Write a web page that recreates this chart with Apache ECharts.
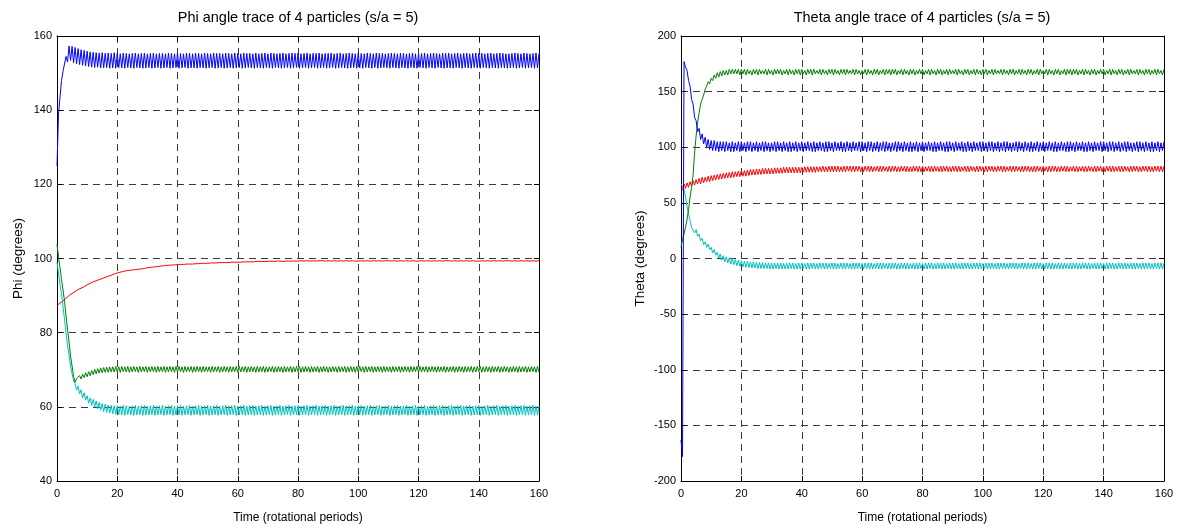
<!DOCTYPE html>
<html><head><meta charset="utf-8">
<script src="https://cdn.jsdelivr.net/npm/echarts@6/dist/echarts.min.js"></script>
<style>html,body{margin:0;padding:0;background:#fff}#c{width:1179px;height:529px}</style>
</head><body><div id="c"></div>
<script>
// sampling step of all traces, in rotational periods
const timeStep = 0.5;
const titles = ['Phi angle trace of 4 particles (s/a = 5)', 'Theta angle trace of 4 particles (s/a = 5)'];
const xName = 'Time (rotational periods)';
const yNames = ['Phi (degrees)', 'Theta (degrees)'];
const xRange = [0, 160, 20];
const phiRange = [40, 160, 20];
const thetaRange = [-200, 200, 50];

// ---- Phi (left panel) ----
const phiBlue = [
125,139,143.5,148,150.5,150.2,154.5,153,157.3,153.4,157.2,152.8,156.9,152.5,156.6,152.3,156.3,152.1,156.1,151.9,
155.9,151.8,155.7,151.6,155.6,151.5,155.5,151.6,155.4,151.4,155.5,151.4,155.3,151.5,155.4,151.3,155.3,151.4,155.5,151.3,
155.3,151.5,155.2,151.4,155.4,151.3,155.3,151.5,155.2,151.4,155.3,151.3,155.4,151.5,155.2,151.4,155.3,151.3,155.4,151.4,
155.2,151.5,155.3,151.3,155.4,151.4,155.2,151.5,155.3,151.3,155.3,151.4,155.2,151.5,155.4,151.3,155.3,151.4,155.2,151.5,
155.4,151.3,155.3,151.4,155.2,151.5,155.4,151.3,155.3,151.4,155.2,151.4,155.4,151.3,155.3,151.5,155.2,151.4,155.4,151.3,
155.3,151.4,155.2,151.5,155.4,151.3,155.3,151.4,155.3,151.5,155.2,151.3,155.4,151.4,155.3,151.5,155.2,151.3,155.4,151.4,
155.3,151.5,155.2,151.3,155.4,151.4,155.3,151.5,155.3,151.4,155.2,151.3,155.4,151.5,155.2,151.4,155.3,151.3,155.4,151.5,
155.2,151.4,155.4,151.3,155.3,151.5,155.2,151.4,155.3,151.3,155.4,151.4,155.2,151.5,155.3,151.3,155.4,151.4,155.3,151.5,
155.4,151.3,155.2,151.4,155.3,151.5,155.4,151.3,155.2,151.4,155.3,151.5,155.3,151.3,155.4,151.4,155.2,151.5,155.3,151.3,
155.3,151.4,155.4,151.5,155.2,151.3,155.3,151.4,155.4,151.5,155.2,151.4,155.3,151.3,155.4,151.4,155.3,151.5,155.2,151.3,
155.4,151.4,155.3,151.3,155.2,151.5,155.4,151.4,155.3,151.3,155.2,151.5,155.4,151.3,155.3,151.4,155.3,151.5,155.2,151.4,
155.3,151.3,155.4,151.5,155.3,151.4,155.2,151.3,155.4,151.5,155.3,151.4,155.2,151.3,155.3,151.5,155.4,151.4,155.2,151.3,
155.2,151.5,155.3,151.4,155.4,151.3,155.2,151.5,155.3,151.4,155.4,151.3,155.3,151.5,155.2,151.4,155.4,151.3,155.3,151.4,
155.4,151.4,155.2,151.3,155.3,151.5,155.4,151.4,155.2,151.3,155.3,151.5,155.4,151.4,155.2,151.3,155.3,151.5,155.4,151.4,
155.3,151.3,155.4,151.5,155.2,151.4,155.3,151.3,155.4,151.5,155.2,151.4,155.3,151.3,155.4,151.5,155.3,151.4,155.2,151.3,
155.2,151.4,155.3,151.5,155.4,151.3,155.3,151.4,155.2,151.5,155.4,151.3,155.3,151.4,155.2,151.5,155.3,151.3,155.4,151.4,
155.3];
const phiRed = [
87.3,87.4,88.0,88.1,88.6,88.8,89.3,89.5,90.0,90.1,90.6,90.7,91.1,91.2,91.6,91.6,92.0,92.0,92.4,92.4,
92.9,92.7,93.3,93.1,93.7,93.4,94.0,93.7,94.3,94.0,94.6,94.3,94.9,94.6,95.2,94.9,95.5,95.2,95.8,95.5,
96.1,95.8,96.3,96.0,96.5,96.2,96.7,96.3,96.8,96.4,96.9,96.5,97.0,96.6,97.1,96.7,97.2,96.8,97.3,96.9,
97.5,97.1,97.6,97.2,97.7,97.3,97.8,97.4,97.9,97.5,98.0,97.5,98.1,97.6,98.2,97.7,98.2,97.7,98.3,97.8,
98.3,97.8,98.4,97.9,98.4,97.9,98.5,98.0,98.5,98.0,98.5,98.1,98.6,98.1,98.6,98.1,98.7,98.2,98.7,98.2,
98.7,98.2,98.8,98.3,98.8,98.3,98.8,98.3,98.9,98.4,98.9,98.4,98.9,98.4,98.9,98.5,99.0,98.5,99.0,98.5,
99.0,98.5,99.0,98.6,99.1,98.6,99.1,98.6,99.1,98.6,99.1,98.7,99.2,98.7,99.2,98.7,99.2,98.7,99.2,98.7,
99.2,98.8,99.3,98.8,99.2,98.8,99.3,98.8,99.3,98.8,99.2,98.8,99.3,98.8,99.3,98.9,99.3,98.8,99.3,98.9,
99.3,98.9,99.4,98.9,99.3,98.9,99.4,98.9,99.3,98.9,99.4,98.9,99.3,99.0,99.4,98.9,99.4,99.0,99.3,98.9,
99.4,98.9,99.3,99.0,99.4,98.9,99.3,98.9,99.4,99.0,99.3,98.9,99.4,98.9,99.3,99.0,99.4,98.9,99.3,98.9,
99.3,99.0,99.4,98.9,99.3,98.9,99.4,99.0,99.3,98.9,99.4,98.9,99.3,99.0,99.4,98.9,99.3,98.9,99.4,99.0,
99.4,98.9,99.3,99.0,99.4,98.9,99.3,98.9,99.4,99.0,99.3,98.9,99.4,98.9,99.3,99.0,99.4,98.9,99.3,99.0,
99.3,98.9,99.4,99.0,99.3,98.9,99.4,98.9,99.3,99.0,99.4,98.9,99.3,98.9,99.4,99.0,99.3,98.9,99.4,98.9,
99.4,99.0,99.3,98.9,99.4,98.9,99.3,99.0,99.4,98.9,99.3,98.9,99.4,99.0,99.3,98.9,99.4,98.9,99.3,99.0,
99.3,98.9,99.4,99.0,99.3,98.9,99.4,98.9,99.3,99.0,99.4,98.9,99.3,98.9,99.4,99.0,99.3,98.9,99.4,98.9,
99.4,99.0,99.3,98.9,99.4,98.9,99.3,99.0,99.4,98.9,99.3,98.9,99.4,99.0,99.3,98.9,99.4,98.9,99.3,99.0,
99.4];
const phiGreen = [
103.8,100.5,97.5,94.3,91.5,88.5,84.5,81,77.5,73.7,71,68.2,66.6,67.6,67.1,68.4,67.5,68.8,67.9,69.2,
68.1,69.5,68.4,69.8,68.7,70.1,68.9,70.3,69.1,70.5,69.2,70.6,69.3,70.7,69.3,70.8,69.4,70.8,69.4,70.9,
69.4,70.8,69.3,70.9,69.5,70.8,69.4,70.9,69.3,70.8,69.4,70.9,69.5,70.8,69.3,70.9,69.4,70.8,69.5,70.9,
69.3,70.8,69.4,70.9,69.5,70.8,69.3,70.9,69.4,70.8,69.5,70.9,69.3,70.8,69.4,70.9,69.5,70.8,69.3,70.9,
69.4,70.9,69.5,70.8,69.3,70.9,69.4,70.8,69.5,70.9,69.3,70.8,69.4,70.9,69.5,70.8,69.3,70.9,69.4,70.8,
69.5,70.8,69.3,70.9,69.4,70.8,69.5,70.9,69.3,70.8,69.4,70.9,69.5,70.8,69.3,70.9,69.4,70.8,69.5,70.9,
69.3,70.9,69.4,70.8,69.5,70.9,69.3,70.8,69.4,70.9,69.5,70.8,69.3,70.9,69.4,70.8,69.5,70.9,69.3,70.8,
69.4,70.8,69.5,70.9,69.3,70.8,69.4,70.9,69.5,70.8,69.3,70.9,69.4,70.8,69.5,70.9,69.3,70.8,69.4,70.9,
69.5,70.9,69.3,70.8,69.4,70.9,69.5,70.8,69.3,70.9,69.4,70.8,69.5,70.9,69.3,70.8,69.4,70.9,69.5,70.8,
69.3,70.8,69.4,70.9,69.5,70.8,69.3,70.9,69.4,70.8,69.5,70.9,69.3,70.8,69.4,70.9,69.5,70.8,69.3,70.9,
69.4,70.9,69.5,70.8,69.3,70.9,69.4,70.8,69.5,70.9,69.3,70.8,69.4,70.9,69.5,70.8,69.3,70.9,69.4,70.8,
69.5,70.8,69.3,70.9,69.4,70.8,69.5,70.9,69.3,70.8,69.4,70.9,69.5,70.8,69.3,70.9,69.4,70.8,69.5,70.9,
69.3,70.9,69.4,70.8,69.5,70.9,69.3,70.8,69.4,70.9,69.5,70.8,69.3,70.9,69.4,70.8,69.5,70.9,69.3,70.8,
69.4,70.8,69.5,70.9,69.3,70.8,69.4,70.9,69.5,70.8,69.3,70.9,69.4,70.8,69.5,70.9,69.3,70.8,69.4,70.9,
69.5,70.9,69.3,70.8,69.4,70.9,69.5,70.8,69.3,70.9,69.4,70.8,69.5,70.9,69.3,70.8,69.4,70.9,69.5,70.8,
69.3,70.8,69.4,70.9,69.5,70.8,69.3,70.9,69.4,70.8,69.5,70.9,69.3,70.8,69.4,70.9,69.5,70.8,69.3,70.9,
69.4];
const phiCyan = [
99,96,93,90.5,87,83.5,80,76.5,74,71,69,67,66.3,64.5,65.6,63.5,64.6,62.4,63.8,61.8,
63,61,62.4,60.4,62,59.9,61.6,59.5,61.2,59.1,60.9,58.7,60.7,58.5,60.5,58.3,60.4,58.1,60.3,58.0,
60.3,57.9,60.2,57.8,60.4,57.7,60.3,57.9,60.2,57.8,60.3,57.7,60.4,57.8,60.2,57.9,60.3,57.7,60.4,57.8,
60.2,57.8,60.3,57.9,60.4,57.7,60.2,57.8,60.3,57.9,60.4,57.7,60.2,57.8,60.3,57.9,60.4,57.7,60.2,57.8,
60.3,57.9,60.4,57.7,60.2,57.8,60.3,57.9,60.4,57.7,60.2,57.8,60.3,57.9,60.4,57.7,60.2,57.8,60.3,57.9,
60.4,57.7,60.2,57.8,60.3,57.9,60.4,57.7,60.2,57.8,60.3,57.9,60.4,57.7,60.2,57.8,60.3,57.9,60.4,57.7,
60.2,57.8,60.3,57.9,60.4,57.7,60.2,57.8,60.3,57.9,60.4,57.7,60.2,57.8,60.3,57.9,60.4,57.7,60.2,57.8,
60.3,57.9,60.4,57.7,60.2,57.8,60.3,57.9,60.4,57.7,60.2,57.8,60.3,57.9,60.4,57.7,60.2,57.8,60.3,57.9,
60.4,57.7,60.2,57.8,60.3,57.9,60.4,57.7,60.2,57.8,60.3,57.9,60.4,57.7,60.2,57.8,60.3,57.9,60.4,57.7,
60.2,57.8,60.3,57.9,60.4,57.7,60.2,57.8,60.3,57.9,60.4,57.7,60.2,57.8,60.3,57.9,60.4,57.7,60.2,57.8,
60.3,57.9,60.4,57.7,60.2,57.8,60.3,57.9,60.4,57.7,60.2,57.8,60.3,57.9,60.4,57.7,60.2,57.8,60.3,57.9,
60.4,57.7,60.2,57.8,60.3,57.9,60.4,57.7,60.2,57.8,60.3,57.9,60.4,57.7,60.2,57.8,60.3,57.9,60.4,57.7,
60.2,57.8,60.3,57.9,60.4,57.7,60.2,57.8,60.3,57.9,60.4,57.7,60.2,57.8,60.3,57.9,60.4,57.7,60.2,57.8,
60.3,57.9,60.4,57.7,60.2,57.8,60.3,57.9,60.4,57.7,60.2,57.8,60.3,57.9,60.4,57.7,60.2,57.8,60.3,57.9,
60.4,57.7,60.2,57.8,60.3,57.9,60.4,57.7,60.2,57.8,60.3,57.9,60.4,57.7,60.2,57.8,60.3,57.9,60.4,57.7,
60.2,57.8,60.3,57.9,60.4,57.7,60.2,57.8,60.3,57.9,60.4,57.7,60.2,57.8,60.3,57.9,60.4,57.7,60.2,57.8,
60.3];

// ---- Theta (right panel) ----
const thetaBlue = [
-163,-178,177,172,169,160,155,143,139,127,124,114,117,107,112,103,109,100,107,98,
106,97,106,97,105,96,105,97,105,96,105,97,104,96,105,96,104,97,105,96,
105,97,104,96,105,97,105,96,104,97,105,96,104,97,105,96,105,97,104,96,
104,97,105,96,105,97,104,96,105,97,104,96,105,96,104,97,105,96,104,97,
105,96,104,97,105,97,104,96,105,96,104,97,105,97,104,96,105,96,105,97,
104,96,105,97,104,97,105,96,104,96,105,97,104,96,105,97,104,97,105,96,
105,97,104,96,105,97,105,96,104,97,105,96,104,97,105,96,105,97,104,96,
104,97,105,96,105,97,104,96,105,97,104,96,105,96,104,97,105,96,104,97,
105,96,104,97,105,97,104,96,105,96,104,97,105,97,104,96,105,96,105,97,
104,96,105,97,104,97,105,96,104,96,105,97,104,96,105,97,104,97,105,96,
105,97,104,96,105,97,105,96,104,97,105,96,104,97,105,96,105,97,104,96,
104,97,105,96,105,97,104,96,105,97,104,96,105,96,104,97,105,96,104,97,
105,96,104,97,105,97,104,96,105,96,104,97,105,97,104,96,105,96,105,97,
104,96,105,97,104,97,105,96,104,96,105,97,104,96,105,97,104,97,105,96,
105,97,104,96,105,97,105,96,104,97,105,96,104,97,105,96,105,97,104,96,
104,97,105,96,105,97,104,96,105,97,104,96,105,96,104,97,105,96,104,97,
105];
const thetaGreen = [
10,17,22,28,35,44,55,64,75,95,110,122,131,139,143,147,152,155,159,157,
162,160,165,162,167,163,168,164,169,165,169,165,170,166,170,166,170,166,170,165,
170,166,170,165,170,166,169,165,170,166,170,165,170,166,169,166,170,165,170,166,
169,165,170,166,170,166,170,165,169,166,170,165,170,166,169,165,170,166,170,165,
170,166,169,165,170,166,170,165,170,166,169,166,170,165,170,166,169,165,170,166,
170,165,170,166,169,165,170,166,170,165,170,166,169,166,170,165,170,166,169,165,
169,166,170,165,170,166,169,165,170,166,170,165,169,166,170,165,170,166,170,165,
170,166,170,165,169,166,170,165,170,166,169,165,170,166,170,165,169,166,170,166,
170,165,169,166,170,165,170,166,169,165,170,166,170,165,169,166,170,165,170,166,
169,166,170,165,170,166,169,165,170,166,170,165,169,166,170,165,170,166,169,165,
170,166,170,165,169,166,170,165,170,166,169,166,170,165,170,166,169,165,170,166,
170,165,169,166,170,165,170,166,169,165,170,166,170,165,169,166,170,165,170,166,
169,166,170,165,170,166,169,165,170,166,170,165,169,166,170,165,170,166,170,165,
170,166,170,165,169,166,170,165,170,166,169,165,170,166,170,165,169,166,170,166,
170,165,169,166,170,165,170,166,169,165,170,166,170,165,169,166,170,165,170,166,
169,166,170,165,170,166,169,165,170,166,170,165,169,166,170,165,170,166,169,165,
170];
const thetaRed = [
64,62,67,63,68,64,69,65,70,66,71,67,72,67,73,68,73,69,74,69,
74.5,70,75,70.5,75.5,71,76,71.5,76.5,72,77,72.5,77.5,72.5,78,73,78,73.5,78.5,73.5,
79,74,79,74,79.5,74.5,80,75,80,75,80.5,75.5,80.5,75.5,81,76,81,76,81,76,
81,76,81.5,76.5,81.5,76.5,81.5,76.5,82,77,82,77,82,77,82,77,82,77,82,77,
82,77.5,82.5,77.5,82.5,77.5,82.5,77.5,82.5,77.5,82.5,78,82.5,78,83,78,82.5,78,83,78,
83,78,83,78,83,78,82.5,78,83,78,83,78.5,83,78,83,78,83,78.5,83,78,
82.5,78,83,78.5,83,78,83,78,82.5,78.5,83,78,83,78,83,78.5,82.5,78,83,78,
83,78.5,83,78,82.5,78,83,78.5,83,78,83,78,82.5,78,83,78.5,83,78,83,78,
83,78,82.5,78.5,83,78,83,78,83,78.5,82.5,78,83,78,83,78.5,83,78,82.5,78,
83,78.5,83,78,83,78,82.5,78.5,83,78,83,78,83,78.5,82.5,78,83,78,83,78.5,
82.5,78,83,78,83,78.5,83,78,82.5,78,83,78.5,83,78,83,78,82.5,78.5,83,78,
83,78,83,78.5,82.5,78,83,78,83,78.5,83,78,82.5,78,83,78,83,78.5,82.5,78,
83,78.5,82.5,78,83,78,83,78.5,83,78,82.5,78,83,78.5,83,78,83,78,82.5,78.5,
83,78,83,78,82.5,78.5,83,78,83,78,83,78.5,82.5,78,83,78,83,78.5,83,78,
82.5,78,83,78.5,83,78,83,78,82.5,78.5,83,78,83,78,83,78.5,82.5,78,83,78,
83,78.5,83,78,82.5,78,83,78.5,83,78,83,78,82.5,78,83,78.5,83,78,83,78,
83];
const thetaCyan = [
67,65,62,55,47,40,34,28,29,23,26,20,22,16,18,12.5,15,10,13,8,
10,5,8,3,5.5,0.5,4,-1.5,2.5,-3,1.5,-4,0.5,-5,0,-5.5,-1,-6.5,-1.5,-7,
-2,-7.5,-2.5,-8,-2.5,-8,-3,-8.5,-3,-8.5,-3.5,-9,-3.5,-9,-3.5,-9,-4,-9,-4,-9.5,
-4,-9.5,-4,-9,-4,-9.5,-4,-9.5,-4.5,-9.5,-4,-9.5,-4,-9,-4,-9.5,-4.5,-9.5,-4,-9.5,
-4,-9,-4.5,-9.5,-4,-9.5,-4,-9,-4,-9.5,-4.5,-9.5,-4,-9,-4,-9.5,-4,-9.5,-4.5,-9,
-4,-9.5,-4,-9.5,-4.5,-9,-4,-9.5,-4,-9.5,-4,-9,-4.5,-9.5,-4,-9.5,-4,-9,-4,-9.5,
-4.5,-9.5,-4,-9,-4,-9.5,-4,-9.5,-4.5,-9,-4,-9.5,-4,-9.5,-4,-9,-4.5,-9.5,-4,-9.5,
-4,-9,-4,-9.5,-4.5,-9.5,-4,-9,-4,-9.5,-4,-9.5,-4.5,-9,-4,-9.5,-4,-9.5,-4,-9,
-4.5,-9.5,-4,-9.5,-4,-9,-4,-9.5,-4.5,-9.5,-4,-9,-4,-9.5,-4,-9.5,-4.5,-9,-4,-9.5,
-4,-9.5,-4,-9,-4.5,-9.5,-4,-9.5,-4,-9,-4,-9.5,-4.5,-9.5,-4,-9,-4,-9.5,-4,-9.5,
-4.5,-9,-4,-9.5,-4,-9.5,-4,-9,-4.5,-9.5,-4,-9.5,-4,-9,-4,-9.5,-4.5,-9.5,-4,-9,
-4,-9.5,-4,-9.5,-4.5,-9,-4,-9.5,-4,-9.5,-4,-9,-4.5,-9.5,-4,-9.5,-4,-9,-4,-9.5,
-4.5,-9.5,-4,-9,-4,-9.5,-4,-9.5,-4.5,-9,-4,-9.5,-4,-9.5,-4,-9,-4.5,-9.5,-4,-9.5,
-4,-9,-4,-9.5,-4.5,-9.5,-4,-9,-4,-9.5,-4,-9.5,-4.5,-9,-4,-9.5,-4,-9.5,-4,-9,
-4.5,-9.5,-4,-9.5,-4,-9,-4,-9.5,-4.5,-9.5,-4,-9,-4,-9.5,-4,-9.5,-4.5,-9,-4,-9.5,
-4,-9.5,-4,-9,-4.5,-9.5,-4,-9.5,-4,-9,-4,-9.5,-4.5,-9.5,-4,-9,-4,-9.5,-4,-9.5,
-4];

const COLORS = {blue:'#0000ff', red:'#ff0000', green:'#008000', cyan:'#00bfbf'};
const FONT = '"Liberation Sans", Arial, sans-serif';
const TXT = '#000';

function pairs(arr){ return arr.map((v, i) => [i * timeStep, v]); }

function xAxis(gi, pos){
  const main = pos === 'bottom';
  return {
    type:'value', gridIndex:gi, position:pos, min:xRange[0], max:xRange[1], interval:xRange[2],
    axisLine:{show:true, onZero:false, lineStyle:{color:'#000', width:1}},
    axisTick:{show:true, inside:true, length:5, lineStyle:{color:'#000', width:1}},
    axisLabel:{show:main, color:TXT, fontSize:11, fontFamily:FONT, margin:7},
    splitLine:{show:main, showMinLine:false, showMaxLine:false, lineStyle:{color:'#3a3a3a', width:1, type:[7,5]}},
    name: main ? xName : '', nameLocation:'middle', nameGap:31,
    nameTextStyle:{color:TXT, fontSize:12, fontFamily:FONT}
  };
}
function yAxis(gi, pos, range, name, gap){
  const main = pos === 'left';
  return {
    type:'value', gridIndex:gi, position:pos, min:range[0], max:range[1], interval:range[2],
    axisLine:{show:true, onZero:false, lineStyle:{color:'#000', width:1}},
    axisTick:{show:true, inside:true, length:5, lineStyle:{color:'#000', width:1}},
    axisLabel:{show:main, color:TXT, fontSize:11, fontFamily:FONT, margin:5},
    splitLine:{show:main, showMinLine:false, showMaxLine:false, lineStyle:{color:'#3a3a3a', width:1, type:[7,5]}},
    name: main ? name : '', nameLocation:'middle', nameGap:gap,
    nameTextStyle:{color:TXT, fontSize:13.5, fontFamily:FONT}
  };
}
function line(data, color, xi, yi){
  return {type:'line', data:pairs(data), xAxisIndex:xi, yAxisIndex:yi, showSymbol:false, symbol:'none',
    lineStyle:{color:color, width:1}, itemStyle:{color:color}, animation:false, silent:true, z:3};
}

const chart = echarts.init(document.getElementById('c'), null, {renderer:'canvas'});
chart.setOption({
  backgroundColor:'#ffffff',
  animation:false,
  title:[
    {text:titles[0], left:298, top:10, textAlign:'center', padding:0, textStyle:{fontSize:14.5, fontWeight:'normal', color:TXT, fontFamily:FONT}},
    {text:titles[1], left:922, top:10, textAlign:'center', padding:0, textStyle:{fontSize:14.5, fontWeight:'normal', color:TXT, fontFamily:FONT}}
  ],
  grid:[
    {left:57, top:36, width:482, height:446},
    {left:681, top:36, width:483, height:447}
  ],
  xAxis:[xAxis(0,'bottom'), xAxis(0,'top'), xAxis(1,'bottom'), xAxis(1,'top')],
  yAxis:[
    yAxis(0,'left',phiRange,yNames[0],32), yAxis(0,'right',phiRange,'',0),
    yAxis(1,'left',thetaRange,yNames[1],34), yAxis(1,'right',thetaRange,'',0)
  ],
  series:[
    line(phiRed, COLORS.red, 0, 0),
    line(phiGreen, COLORS.green, 0, 0),
    line(phiCyan, COLORS.cyan, 0, 0),
    line(phiBlue, COLORS.blue, 0, 0),
    line(thetaRed, COLORS.red, 2, 2),
    line(thetaCyan, COLORS.cyan, 2, 2),
    line(thetaGreen, COLORS.green, 2, 2),
    line(thetaBlue, COLORS.blue, 2, 2)
  ]
});
</script></body></html>
